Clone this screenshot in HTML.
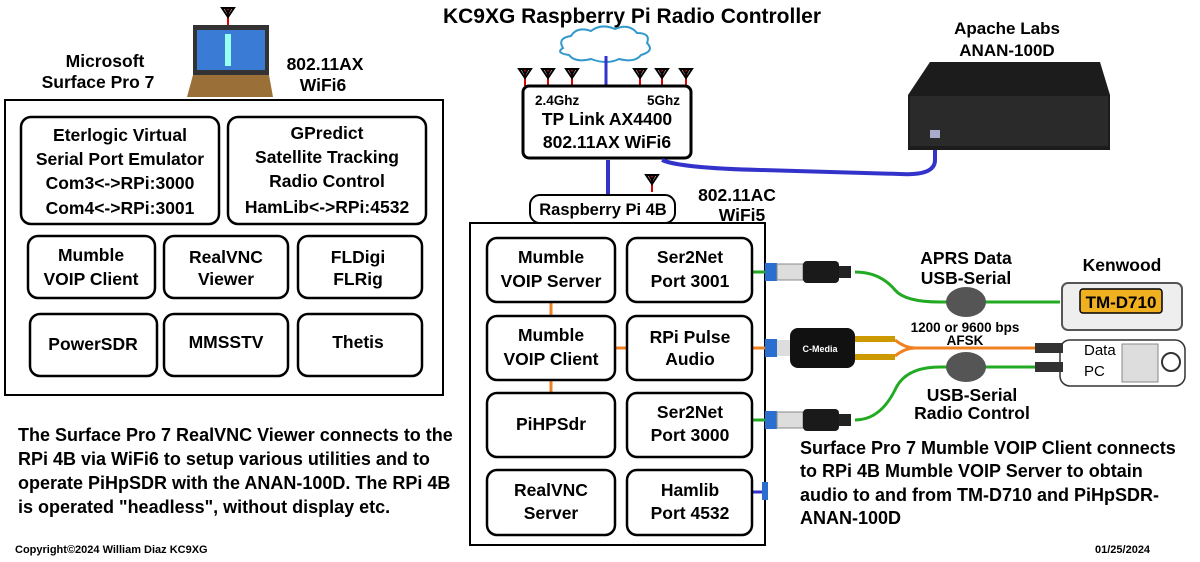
<!DOCTYPE html>
<html><head><meta charset="utf-8"><style>
html,body{margin:0;padding:0;background:#fff;}
svg{display:block;font-family:"Liberation Sans",sans-serif;font-weight:bold;}
</style></head><body>
<svg width="1200" height="562" viewBox="0 0 1200 562" xmlns="http://www.w3.org/2000/svg">
<defs>
<g id="ant"><line x1="0" y1="0" x2="0" y2="16" stroke="#d00" stroke-width="2"/><path d="M-6,-1 L6,-1 L0,8 Z M-3,-1 L0,4 L3,-1" fill="none" stroke="#000" stroke-width="2"/></g>
<g id="usb"><rect x="0" y="-9" width="12" height="18" fill="#2a6fd0"/><rect x="12" y="-8" width="26" height="16" fill="#ddd" stroke="#888"/><rect x="38" y="-11" width="36" height="22" rx="4" fill="#1a1a1a"/><rect x="74" y="-6" width="12" height="12" fill="#222"/></g>
</defs>
<text x="632" y="23" font-size="21" text-anchor="middle">KC9XG Raspberry Pi Radio Controller</text>

<!-- laptop -->
<use href="#ant" x="228" y="9"/>
<rect x="193" y="25" width="76" height="50" fill="#333"/>
<rect x="197" y="30" width="68" height="40" fill="#3a7bd5"/>
<rect x="225" y="34" width="6" height="32" fill="#9fe"/>
<path d="M193,75 L269,75 L273,97 L187,97 Z" fill="#9a7038"/>
<text font-size="17.5" text-anchor="middle"><tspan x="105" y="67">Microsoft</tspan><tspan x="98" y="88">Surface Pro 7</tspan></text>
<text font-size="17.5" text-anchor="middle"><tspan x="325" y="70">802.11AX</tspan><tspan x="323" y="91">WiFi6</tspan></text>

<!-- left box -->
<rect x="5" y="100" width="438" height="295" fill="none" stroke="#000" stroke-width="2"/>
<g fill="none" stroke="#000" stroke-width="2.5">
<rect x="21" y="117" width="198" height="107" rx="10"/>
<rect x="228" y="117" width="198" height="107" rx="10"/>
<rect x="28" y="236" width="127" height="62" rx="10"/>
<rect x="164" y="236" width="124" height="62" rx="10"/>
<rect x="298" y="236" width="124" height="62" rx="10"/>
<rect x="30" y="314" width="127" height="62" rx="10"/>
<rect x="164" y="314" width="124" height="62" rx="10"/>
<rect x="298" y="314" width="124" height="62" rx="10"/>
</g>
<g font-size="17.5" text-anchor="middle">
<text><tspan x="120" y="141">Eterlogic Virtual</tspan><tspan x="120" y="165">Serial Port Emulator</tspan><tspan x="120" y="189">Com3&lt;-&gt;RPi:3000</tspan><tspan x="120" y="214">Com4&lt;-&gt;RPi:3001</tspan></text>
<text><tspan x="327" y="139">GPredict</tspan><tspan x="327" y="163">Satellite Tracking</tspan><tspan x="327" y="187">Radio Control</tspan><tspan x="327" y="213">HamLib&lt;-&gt;RPi:4532</tspan></text>
<text><tspan x="91" y="261">Mumble</tspan><tspan x="91" y="285">VOIP Client</tspan></text>
<text><tspan x="226" y="263">RealVNC</tspan><tspan x="226" y="285">Viewer</tspan></text>
<text><tspan x="358" y="263">FLDigi</tspan><tspan x="358" y="285">FLRig</tspan></text>
<text x="93" y="350">PowerSDR</text>
<text x="226" y="348">MMSSTV</text>
<text x="358" y="348">Thetis</text>
</g>
<g font-size="18"><text><tspan x="18" y="441">The Surface Pro 7 RealVNC Viewer connects to the</tspan><tspan x="18" y="465">RPi 4B via WiFi6 to setup various utilities and to</tspan><tspan x="18" y="489">operate PiHpSDR with the ANAN-100D.  The RPi 4B</tspan><tspan x="18" y="513">is operated "headless", without display etc.</tspan></text></g>
<text x="15" y="553" font-size="11">Copyright©2024 William Diaz KC9XG</text>
<text x="1095" y="553" font-size="11">01/25/2024</text>

<!-- router -->
<path d="M563,48 q-6,-10 8,-12 q6,-10 20,-5 q10,-8 24,-2 q14,-6 22,4 q14,0 10,10 q8,8 -6,12 q-6,8 -22,4 q-12,6 -28,0 q-16,4 -22,-4 q-14,-2 -6,-7 z" fill="#fff" stroke="#39c" stroke-width="2"/>
<line x1="606" y1="56" x2="606" y2="86" stroke="#33c" stroke-width="3"/>
<use href="#ant" x="525" y="70"/><use href="#ant" x="548" y="70"/><use href="#ant" x="572" y="70"/>
<use href="#ant" x="640" y="70"/><use href="#ant" x="662" y="70"/><use href="#ant" x="686" y="70"/>
<rect x="523" y="86" width="168" height="72" rx="6" fill="#fff" stroke="#000" stroke-width="3"/>
<text x="535" y="105" font-size="13.5">2.4Ghz</text><text x="680" y="105" font-size="13.5" text-anchor="end">5Ghz</text>
<text font-size="17.5" text-anchor="middle"><tspan x="607" y="125">TP Link AX4400</tspan><tspan x="607" y="148">802.11AX WiFi6</tspan></text>
<line x1="608" y1="160" x2="608" y2="195" stroke="#33c" stroke-width="4"/>
<path d="M662,160 Q680,168 760,170 L900,174 Q935,176 935,160 L935,138" fill="none" stroke="#33c" stroke-width="4"/>

<!-- ANAN -->
<text font-size="17" text-anchor="middle"><tspan x="1007" y="34">Apache Labs</tspan><tspan x="1007" y="56">ANAN-100D</tspan></text>
<path d="M930,62 L1100,62 L1110,95 L1110,150 L908,150 L908,95 Z" fill="#1c1c1c"/>
<rect x="910" y="96" width="198" height="50" fill="#2a2a2a"/>
<rect x="930" y="130" width="10" height="8" fill="#aac"/>

<!-- Pi -->
<use href="#ant" x="652" y="176"/>
<rect x="530" y="195" width="145" height="28" rx="10" fill="#fff" stroke="#000" stroke-width="2"/>
<text x="603" y="215" font-size="16.5" text-anchor="middle">Raspberry Pi 4B</text>
<text font-size="17.5" text-anchor="middle"><tspan x="737" y="201">802.11AC</tspan><tspan x="742" y="221">WiFi5</tspan></text>
<rect x="470" y="223" width="295" height="322" fill="none" stroke="#000" stroke-width="2"/>
<g stroke="#f08020" stroke-width="3"><line x1="551" y1="302" x2="551" y2="316"/><line x1="551" y1="380" x2="551" y2="393"/><line x1="615" y1="348" x2="627" y2="348"/><line x1="752" y1="348" x2="772" y2="348"/></g>
<line x1="752" y1="272" x2="772" y2="272" stroke="#2a2" stroke-width="3"/>
<line x1="752" y1="420" x2="772" y2="420" stroke="#2a2" stroke-width="3"/>
<line x1="752" y1="492" x2="765" y2="492" stroke="#33c" stroke-width="3"/>
<g fill="#fff" stroke="#000" stroke-width="2.5">
<rect x="487" y="238" width="128" height="64" rx="10"/><rect x="627" y="238" width="125" height="64" rx="10"/>
<rect x="487" y="316" width="128" height="64" rx="10"/><rect x="627" y="316" width="125" height="64" rx="10"/>
<rect x="487" y="393" width="128" height="64" rx="10"/><rect x="627" y="393" width="125" height="64" rx="10"/>
<rect x="487" y="470" width="128" height="65" rx="10"/><rect x="627" y="470" width="125" height="65" rx="10"/>
</g>
<rect x="762" y="482" width="6" height="18" fill="#2a6fd0"/>
<g font-size="17.5" text-anchor="middle">
<text><tspan x="551" y="263">Mumble</tspan><tspan x="551" y="287">VOIP Server</tspan></text>
<text><tspan x="690" y="263">Ser2Net</tspan><tspan x="690" y="287">Port 3001</tspan></text>
<text><tspan x="551" y="341">Mumble</tspan><tspan x="551" y="365">VOIP Client</tspan></text>
<text><tspan x="690" y="343">RPi Pulse</tspan><tspan x="690" y="365">Audio</tspan></text>
<text x="551" y="430">PiHPSdr</text>
<text><tspan x="690" y="418">Ser2Net</tspan><tspan x="690" y="441">Port 3000</tspan></text>
<text><tspan x="551" y="496">RealVNC</tspan><tspan x="551" y="519">Server</tspan></text>
<text><tspan x="690" y="496">Hamlib</tspan><tspan x="690" y="519">Port 4532</tspan></text>
</g>

<!-- cables -->
<path d="M855,272 Q880,272 895,290 Q905,302 940,302 L1060,302" fill="none" stroke="#2a2" stroke-width="3"/>
<path d="M855,420 Q880,420 895,390 Q905,367 940,367 L1035,367" fill="none" stroke="#2a2" stroke-width="3"/>
<path d="M895,340 Q905,348 915,348 L1035,348 M895,356 Q905,348 915,348" fill="none" stroke="#f08020" stroke-width="3"/>
<ellipse cx="966" cy="302" rx="20" ry="15" fill="#555"/>
<ellipse cx="966" cy="367" rx="20" ry="15" fill="#555"/>
<use href="#usb" x="765" y="272"/>
<use href="#usb" x="765" y="420"/>
<rect x="765" y="339" width="12" height="18" fill="#2a6fd0"/><rect x="777" y="340" width="14" height="16" fill="#ddd"/>
<rect x="790" y="328" width="65" height="40" rx="8" fill="#111"/>
<text x="820" y="352" font-size="9" fill="#fff" text-anchor="middle">C-Media</text>
<rect x="855" y="336" width="40" height="6" fill="#c90"/><rect x="855" y="354" width="40" height="6" fill="#c90"/>
<text font-size="17.5" text-anchor="middle"><tspan x="966" y="264">APRS Data</tspan><tspan x="966" y="284">USB-Serial</tspan></text>
<text font-size="13.5" text-anchor="middle"><tspan x="965" y="332">1200 or 9600 bps</tspan><tspan x="965" y="345">AFSK</tspan></text>
<text font-size="17.5" text-anchor="middle"><tspan x="972" y="401">USB-Serial</tspan><tspan x="972" y="419">Radio Control</tspan></text>
<text x="1122" y="271" font-size="17.5" text-anchor="middle">Kenwood</text>
<rect x="1062" y="283" width="120" height="47" rx="6" fill="#eee" stroke="#555" stroke-width="2"/>
<rect x="1080" y="289" width="82" height="24" rx="3" fill="#f0b020" stroke="#000" stroke-width="1.5"/>
<text x="1121" y="308" font-size="17" text-anchor="middle">TM-D710</text>
<rect x="1060" y="340" width="125" height="46" rx="10" fill="#fff" stroke="#333" stroke-width="1.5"/>
<rect x="1035" y="343" width="28" height="10" fill="#333"/><rect x="1035" y="362" width="28" height="10" fill="#333"/>
<rect x="1122" y="344" width="36" height="38" fill="#ddd" stroke="#888"/>
<circle cx="1171" cy="362" r="9" fill="none" stroke="#333" stroke-width="2"/>
<text font-size="15" font-weight="normal"><tspan x="1084" y="355">Data</tspan><tspan x="1084" y="376">PC</tspan></text>
<text font-size="18"><tspan x="800" y="454">Surface Pro 7 Mumble VOIP Client connects</tspan><tspan x="800" y="477">to RPi 4B Mumble VOIP Server to obtain</tspan><tspan x="800" y="501">audio  to and from TM-D710 and PiHpSDR-</tspan><tspan x="800" y="524">ANAN-100D</tspan></text>
</svg>
</body></html>
